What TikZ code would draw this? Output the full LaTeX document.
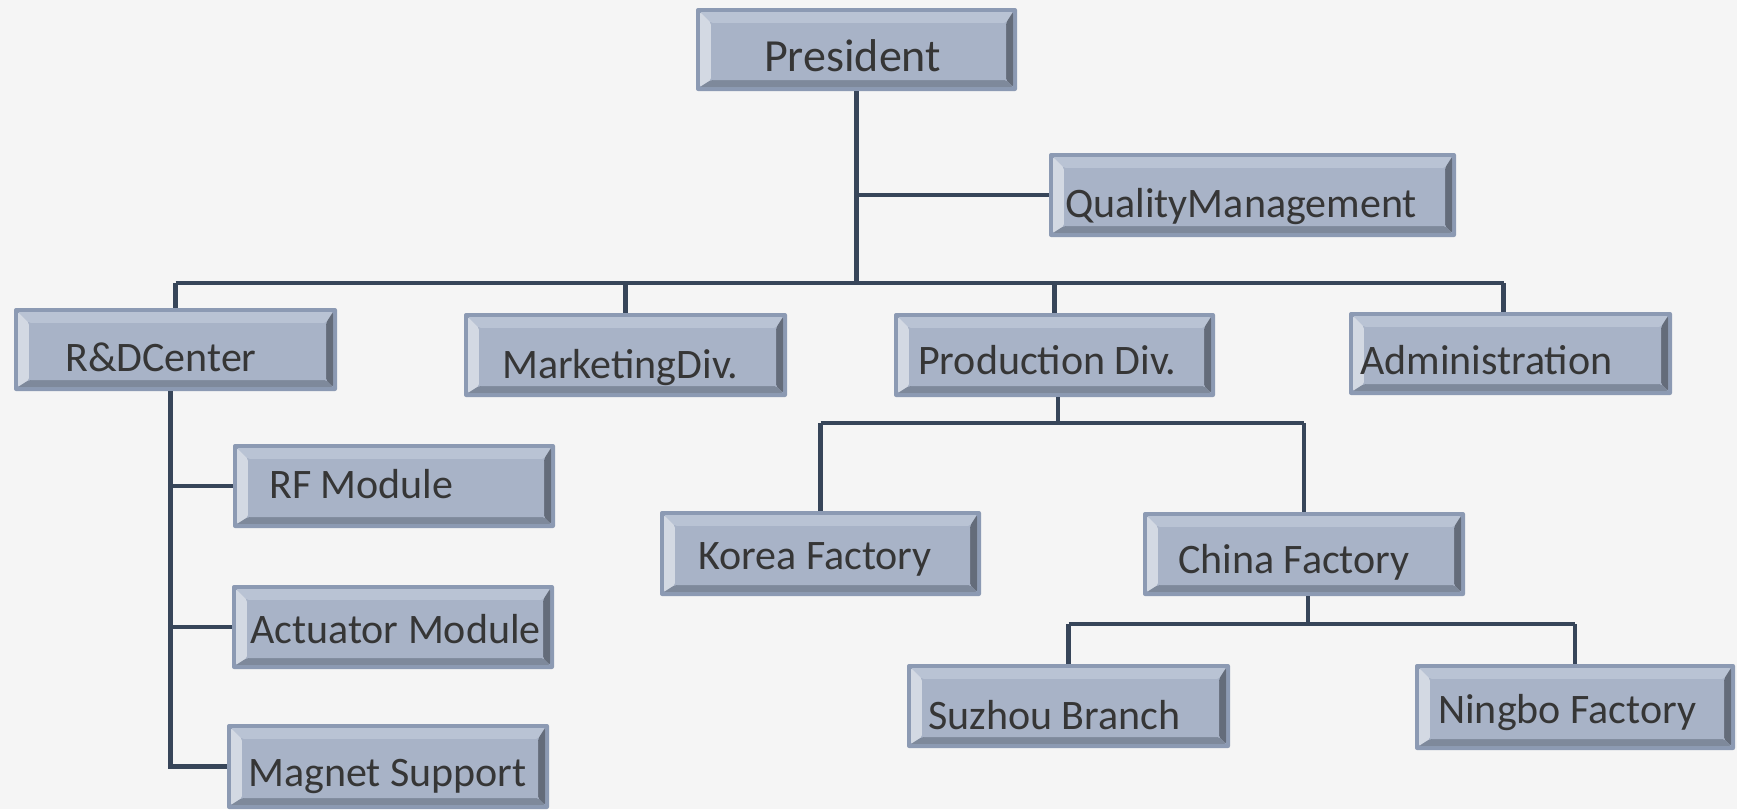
\documentclass[tikz,border=0pt]{standalone}
\usepackage{fontspec}
\setmainfont{Carlito}
\usetikzlibrary{calc}
\definecolor{bgc}{HTML}{F5F5F5}
\definecolor{framec}{HTML}{8C9AB3}
\definecolor{facec}{HTML}{A8B3C7}
\definecolor{topc}{HTML}{B9C3D4}
\definecolor{leftc}{HTML}{D3D9E3}
\definecolor{rightc}{HTML}{646C7A}
\definecolor{botc}{HTML}{7E899B}
\definecolor{linec}{HTML}{374559}
\definecolor{txtc}{HTML}{363636}
\tikzset{
  bevelbox/.style={rectangle, rounded corners=2pt, fill=framec, inner sep=0pt, outer sep=0pt,
    path picture={
      \coordinate (pA) at (path picture bounding box.south west);
      \coordinate (pB) at (path picture bounding box.north east);
      \coordinate (s1) at ($(pA)+(4pt,4pt)$);
      \coordinate (n1) at ($(pB)+(-4pt,-4pt)$);
      \coordinate (s2) at ($(pA)+(15pt,11pt)$);
      \coordinate (n2) at ($(pB)+(-11pt,-15pt)$);
      \fill[facec] (s1) rectangle (n1);
      \fill[topc] (s1 |- n1) -- (n1) -- (n2) -- (s2 |- n2) -- cycle;
      \fill[leftc] (s1) -- (s1 |- n1) -- (s2 |- n2) -- (s2) -- cycle;
      \fill[rightc] (n1) -- (n1 |- s1) -- (n2 |- s2) -- (n2) -- cycle;
      \fill[botc] (s1) -- (n1 |- s1) -- (n2 |- s2) -- (s2) -- cycle;
      \fill[facec] (s2) rectangle (n2);
    }},
  lbl/.style={anchor=base west, inner sep=0pt, text=txtc, font=\fontsize{42}{50}\selectfont},
  conn/.style={draw=linec, line width=4.8pt}
}
\begin{document}
\begin{tikzpicture}[x=1pt,y=-1pt]
\useasboundingbox[fill=bgc] (0,0) rectangle (1737,809);
% boxes
\node[bevelbox, minimum width=321pt, minimum height=83pt] (pres) at (856.5,49.5) {};
\node[bevelbox, minimum width=407pt, minimum height=84pt] (qm) at (1252.5,195) {};
\node[bevelbox, minimum width=323pt, minimum height=83pt] (rd) at (175.5,349.5) {};
\node[bevelbox, minimum width=323pt, minimum height=84pt] (mk) at (625.5,355) {};
\node[bevelbox, minimum width=321pt, minimum height=84pt] (pd) at (1054.5,355) {};
\node[bevelbox, minimum width=323pt, minimum height=83pt] (adm) at (1510.5,353.5) {};
\node[bevelbox, minimum width=322pt, minimum height=84pt] (rf) at (394,486) {};
\node[bevelbox, minimum width=322pt, minimum height=84pt] (act) at (393,627) {};
\node[bevelbox, minimum width=322pt, minimum height=85pt] (ms) at (388,766.5) {};
\node[bevelbox, minimum width=321pt, minimum height=85pt] (kf) at (820.5,553.5) {};
\node[bevelbox, minimum width=322pt, minimum height=84pt] (cf) at (1304,554) {};
\node[bevelbox, minimum width=323pt, minimum height=84pt] (sb) at (1068.5,706) {};
\node[bevelbox, minimum width=320pt, minimum height=86pt] (nf) at (1575,707) {};
% labels
\node[lbl, font=\fontsize{46}{54}\selectfont] (presT) at (764,71) {President};
\node[lbl] (qmT) at (1065,217) {QualityManagement};
\node[lbl] (rdT) at (65,371) {R\&DCenter};
\node[lbl] (mkT) at (502,378) {MarketingDiv.};
\node[lbl] (pdT) at (918,374) {Production Div.};
\node[lbl] (admT) at (1360,374) {Administration};
\node[lbl] (rfT) at (269,498) {RF Module};
\node[lbl] (actT) at (250,643) {Actuator Module};
\node[lbl] (msT) at (248,786) {Magnet Support};
\node[lbl] (kfT) at (698,569) {Korea Factory};
\node[lbl] (cfT) at (1178,573) {China Factory};
\node[lbl] (sbT) at (928,729) {Suzhou Branch};
\node[lbl] (nfT) at (1438,723) {Ningbo Factory};
% connector helpers
\coordinate (bus) at (0,283);
\coordinate (rdx) at (170.6,391);
\coordinate (pdbus) at (0,423);
\coordinate (pdx) at (1058,397);
\coordinate (cfbus) at (0,624);
\coordinate (cfx) at (1308,596);
% connectors
\draw[conn] (pres.south) -- (pres.south |- bus);
\draw[conn] (pres.south |- qm.west) -- (qm.west);
\draw[conn] (rd.north |- bus) -- ([xshift=-7pt]adm.north |- bus);
\draw[conn] (rd.north |- bus) -- (rd.north);
\draw[conn] (mk.north |- bus) -- (mk.north);
\draw[conn] (pd.north |- bus) -- (pd.north);
\draw[conn] ([xshift=-7pt]adm.north |- bus) -- ([xshift=-7pt]adm.north);
\draw[conn] (rdx) |- (ms.west);
\draw[conn] (rf.west) -- (rf.west -| rdx);
\draw[conn] (act.west) -- (act.west -| rdx);
\draw[conn] (pdx) -- (pdx |- pdbus);
\draw[conn] (kf.north |- pdbus) -- (cf.north |- pdbus);
\draw[conn] (kf.north |- pdbus) -- (kf.north);
\draw[conn] (cf.north |- pdbus) -- (cf.north);
\draw[conn] (cfx) -- (cfx |- cfbus);
\draw[conn] (sb.north |- cfbus) -- (nf.north |- cfbus);
\draw[conn] (sb.north |- cfbus) -- (sb.north);
\draw[conn] (nf.north |- cfbus) -- (nf.north);
\end{tikzpicture}
\end{document}
